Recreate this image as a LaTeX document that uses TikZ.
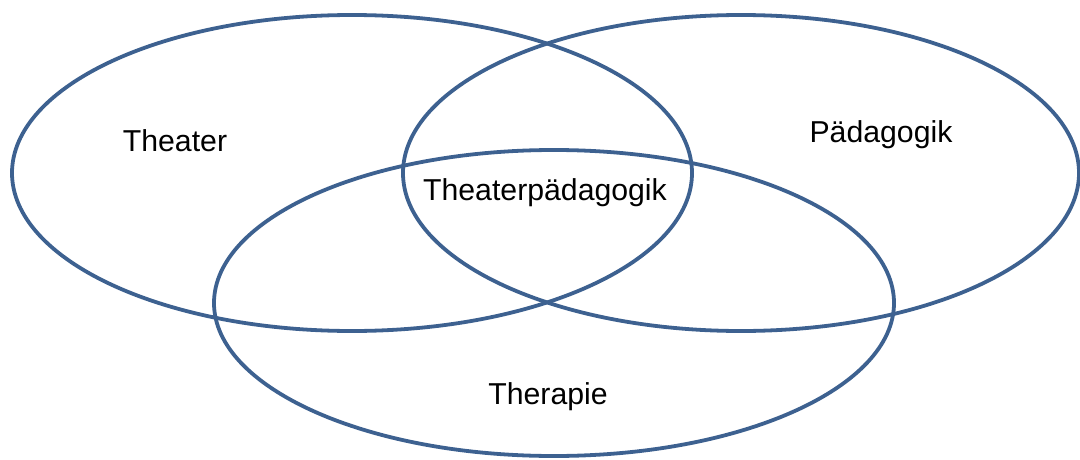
\documentclass[tikz,border=0pt]{standalone}
\usepackage{fontspec}
\setmainfont{Liberation Sans}
\usetikzlibrary{positioning}
\definecolor{ringblue}{HTML}{3D6190}
\tikzset{
	venn/.style={x=0.025cm,y=-0.025cm},
	ring/.style={draw=ringblue,line width=2.7pt},
	label/.style={font=\fontsize{21.5}{25}\selectfont,inner sep=0pt}
}

\begin{document}
\begin{tikzpicture}[venn]
	\useasboundingbox (0,0) rectangle (1080,460);
	
	\draw[ring] (352,173) ellipse (340 and 158);
	\draw[ring] (741,173) ellipse (338 and 158);
	\draw[ring] (554,303) ellipse (340 and 153);
	
	\node[label] (theater) at (175,141) {Theater};
	\node[label] (paed) at (881,135) {Pädagogik};
	\node[label] (tp) at (545,193) {Theaterpädagogik};
	\node[label] (therapie) at (548,397) {Therapie};
	
\end{tikzpicture}
\end{document}
